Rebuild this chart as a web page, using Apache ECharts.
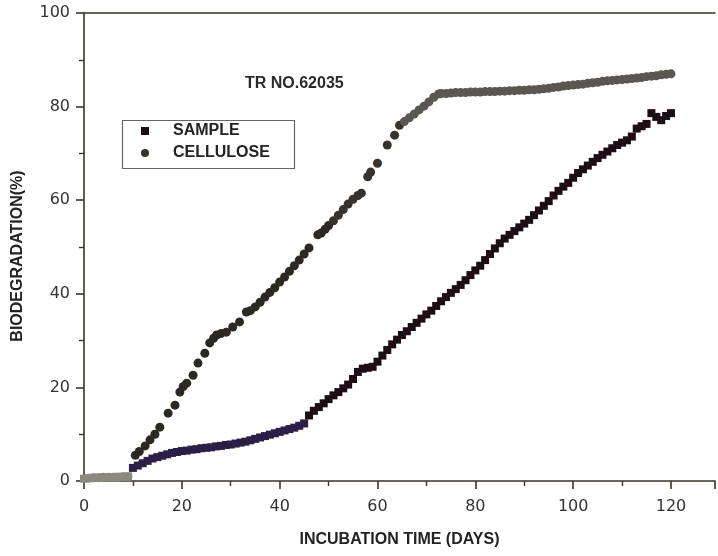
<!DOCTYPE html>
<html>
<head>
<meta charset="utf-8">
<script src="https://cdn.jsdelivr.net/npm/echarts@6/dist/echarts.min.js"></script>
<style>
html,body{margin:0;padding:0;background:#fff;}
#chart{width:718px;height:556px;}
</style>
</head>
<body>
<div id="chart"></div>
<script>
const chartTitle = 'TR NO.62035';
const xAxisName = 'INCUBATION TIME (DAYS)';
const yAxisName = 'BIODEGRADATION(%)';
const seriesNames = ['SAMPLE', 'CELLULOSE'];

const sampleDays = [0,1,2,3,4,5,6,7,8,9,10,11,12,13,14,15,16,17,18,19,20,21,22,23,24,25,26,27,28,29,30,31,32,33,34,35,36,37,38,39,40,41,42,43,44,45,46,47,48,49,50,51,52,53,54,55,56,57,58,59,60,61,62,63,64,65,66,67,68,69,70,71,72,73,74,75,76,77,78,79,80,81,82,83,84,85,86,87,88,89,90,91,92,93,94,95,96,97,98,99,100,101,102,103,104,105,106,107,108,109,110,111,112,113,114,115,116,117,118,119,120];
const sampleValues = [0.5,0.6,0.7,0.7,0.8,0.8,0.8,0.9,0.9,1.0,
  2.8,3.3,3.8,4.3,4.8,5.1,5.4,5.7,6.0,6.2,
  6.4,6.5,6.7,6.8,7.0,7.1,7.2,7.4,7.5,7.7,
  7.8,8.0,8.2,8.4,8.7,9.0,9.3,9.6,9.9,10.2,
  10.5,10.8,11.1,11.4,11.8,12.3,14.0,15.0,15.8,16.6,
  17.5,18.3,19.0,19.8,20.6,21.8,23.3,24.0,24.2,24.4,
  25.5,26.8,28.0,29.2,30.2,31.2,32.0,32.9,33.8,34.7,
  35.6,36.4,37.4,38.4,39.3,40.2,41.0,41.9,42.9,44.0,
  45.0,46.0,47.2,48.5,49.7,50.8,51.8,52.6,53.4,54.2,
  55.0,55.8,56.8,57.8,58.8,59.8,61.0,62.0,62.9,63.7,
  64.8,65.8,66.6,67.4,68.2,69.0,69.7,70.4,71.1,71.8,
  72.3,72.8,73.6,75.3,75.8,76.3,78.6,77.8,77.1,78.0,
  78.6];

const celluloseDays = [1,2,3,4,5,6,7,8,9,
  10.5,11.3,12.5,13.5,14.5,15.5,17.2,18.6,19.6,20.3,21,22.3,23.3,24.7,25.7,26.5,27.1,28,29.1,30.4,31.8,33.2,34,35,36,37,38,39,40,41,42,43,44,45,46,
  47.8,48.5,49.3,50,51,52,53,54,55,56,56.7,58,58.6,60,62,63.5,64.5,65.5,66.5,67.5,68.5,69.5,70.5,71.5,72.5,
  73,74,75,76,77,78,79,80,81,82,83,84,85,86,87,88,89,90,91,92,93,94,95,96,97,98,99,100,101,102,103,104,105,106,107,108,109,110,111,112,113,114,115,116,117,118,119,120];
const celluloseValues = [0.6,0.7,0.7,0.8,0.8,0.8,0.8,0.9,0.9,
  5.5,6.3,7.5,8.8,10.0,11.5,14.5,16.2,19.0,20.2,20.9,22.6,25.2,27.3,29.5,30.5,31.2,31.5,31.8,32.9,34.0,36.1,36.4,37.2,38.2,39.3,40.3,41.3,42.5,43.6,44.8,46.0,47.2,48.5,49.8,
  52.6,53.0,53.8,54.6,55.6,56.8,58.0,59.2,60.2,61.0,61.5,65.0,66.0,67.9,71.8,73.9,76.0,76.8,77.6,78.4,79.3,80.1,81.0,82.0,82.7,
  82.8,82.8,82.9,83.0,83.0,83.0,83.1,83.1,83.1,83.2,83.2,83.2,83.3,83.3,83.4,83.4,83.5,83.5,83.6,83.6,83.7,83.8,83.9,84.1,84.2,84.4,84.5,84.6,84.7,84.8,85.0,85.1,85.2,85.4,85.5,85.6,85.7,85.8,85.9,86.0,86.1,86.2,86.4,86.5,86.6,86.8,86.9,87.0];

const xTicks = [0, 20, 40, 60, 80, 100, 120];
const yTicks = [0, 20, 40, 60, 80, 100];

const axisColor = '#3b3526';
const font = 'Liberation Sans, Arial, sans-serif';

const chart = echarts.init(document.getElementById('chart'), null, {renderer: 'canvas'});

const sampleData = sampleDays.map((d, i) => [d, sampleValues[i]]);
const celluloseData = celluloseDays.map((d, i) => [d, celluloseValues[i]]);

const option = {
  backgroundColor: '#ffffff',
  animation: false,
  grid: {left: 84, right: 2, top: 13, bottom: 75},
  title: {
    text: chartTitle,
    left: 240, top: 71,
    textStyle: {fontFamily: font, fontWeight: 'bold', fontSize: 16, color: '#2a2a2a'}
  },
  legend: {
    orient: 'vertical',
    left: 141, top: 122,
    padding: 0,
    itemWidth: 8, itemHeight: 8,
    itemGap: 4,
    data: [{name: seriesNames[0], icon: 'rect'}, {name: seriesNames[1], icon: 'circle'}],
    textStyle: {fontFamily: font, fontWeight: 'bold', fontSize: 16, color: '#222', lineHeight: 18, padding: [0, 0, 0, 19]}
  },
  graphic: [{
    type: 'rect', left: 120, top: 118,
    shape: {width: 172, height: 48},
    style: {fill: 'none', stroke: '#666', lineWidth: 1.2},
    z: 10
  }],
  visualMap: [{
    show: false, type: 'piecewise', seriesIndex: 0, dimension: 0,
    pieces: [
      {min: -1, max: 9.9, color: '#8c8a80'},
      {min: 9.9, max: 45.5, color: '#2c1f45'},
      {min: 45.5, max: 200, color: '#1c0e14'}
    ]
  }, {
    show: false, type: 'piecewise', seriesIndex: 1, dimension: 0,
    pieces: [
      {min: -1, max: 9.9, color: '#8c8a80'},
      {min: 9.9, max: 50, color: '#2c2923'},
      {min: 50, max: 65, color: '#37332c'},
      {min: 65, max: 200, color: '#5a5750'}
    ]
  }],
  xAxis: [{
    type: 'value', min: 0, max: 129, interval: 20,
    name: xAxisName, nameLocation: 'middle', nameGap: 51,
    nameTextStyle: {fontFamily: font, fontWeight: 'bold', fontSize: 16, color: '#222'},
    axisLine: {show: true, lineStyle: {color: axisColor, width: 1.6}},
    axisTick: {show: true, length: 8, lineStyle: {color: axisColor, width: 1.6}},
    minorTick: {show: true, splitNumber: 2, length: 5, lineStyle: {color: axisColor, width: 1.4}},
    splitLine: {show: false},
    axisLabel: {margin: 18, fontFamily: 'DejaVu Sans, sans-serif', fontSize: 16, color: '#333',
      formatter: v => xTicks.includes(v) ? String(v) : ''}
  }, {
    type: 'value', position: 'top', min: 0, max: 129, interval: 20,
    axisLine: {show: true, lineStyle: {color: axisColor, width: 1.6}},
    axisTick: {show: false}, axisLabel: {show: false}, splitLine: {show: false}
  }],
  yAxis: {
    type: 'value', min: 0, max: 100, interval: 20,
    name: yAxisName, nameLocation: 'middle', nameGap: 58, nameRotate: 90,
    nameTextStyle: {fontFamily: font, fontWeight: 'bold', fontSize: 16, color: '#222', padding: [0, 0, 0, -18]},
    axisLine: {show: true, lineStyle: {color: axisColor, width: 1.6}},
    axisTick: {show: true, length: 8, lineStyle: {color: axisColor, width: 1.6}},
    minorTick: {show: true, splitNumber: 2, length: 5, lineStyle: {color: axisColor, width: 1.4}},
    splitLine: {show: false},
    axisLabel: {margin: 14, fontFamily: 'DejaVu Sans, sans-serif', fontSize: 16, color: '#333',
      formatter: v => yTicks.includes(v) ? String(v) : ''}
  },
  series: [{
    name: seriesNames[0], type: 'scatter', symbol: 'rect', symbolSize: 8,
    itemStyle: {color: '#1c0e14', opacity: 1},
    data: sampleData, z: 3
  }, {
    name: seriesNames[1], type: 'scatter', symbol: 'circle', symbolSize: 9,
    itemStyle: {color: '#37332c', opacity: 1},
    data: celluloseData, z: 2
  }]
};
chart.setOption(option);
</script>
</body>
</html>
